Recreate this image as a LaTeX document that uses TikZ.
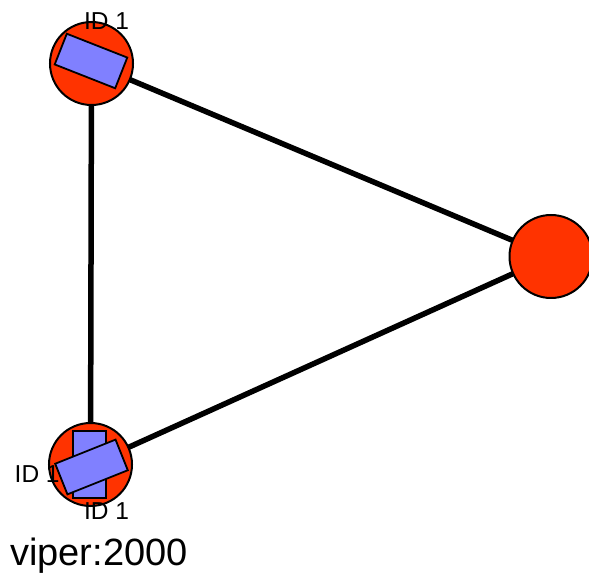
\documentclass[tikz,border=0pt]{standalone}
\usepackage{fontspec}
\setmainfont{Liberation Sans}
\usetikzlibrary{backgrounds}
\definecolor{nodered}{RGB}{255,51,0}
\definecolor{boxblue}{RGB}{128,128,255}
\tikzset{
  vertex/.style={circle,draw=black,fill=nodered,line width=2pt,minimum size=83pt,inner sep=0pt},
  vbox/.style={rectangle,draw=black,fill=boxblue,line width=1.8pt,inner sep=0pt},
  idlabel/.style={inner sep=0pt,font=\fontsize{24.5}{28}\selectfont},
  link/.style={line width=5.5pt,black}
}
\begin{document}
\begin{tikzpicture}[x=1pt,y=1pt]
\useasboundingbox (0,0) rectangle (589,573);
% vertices
\node[vertex] (n1) at (91.5,509.5) {};
\node[vertex] (n2) at (551,316.5) {};
\node[vertex] (n3) at (90.5,108.5) {};
% labels
\node[idlabel,anchor=base] (l1) at (106.5,543.5) {ID 1};
\node[idlabel,anchor=base west] (l2) at (14.5,90) {ID 1};
\node[idlabel,anchor=base] (l3) at (106.5,53) {ID 1};
% boxes
\node[vbox,minimum width=65pt,minimum height=33pt,rotate=-21.5] (b1) at (91,512) {};
\node[vbox,minimum width=33pt,minimum height=67pt] (b2) at (89.5,108.5) {};
\node[vbox,minimum width=65pt,minimum height=33pt,rotate=21.8] (b3) at (91.5,106) {};
% caption
\node[inner sep=0pt,anchor=base west,font=\fontsize{38}{44}\selectfont] (cap) at (10,8) {viper:2000};
% links
\begin{pgfonlayer}{background}
\draw[link] (n1.center) -- (n2.center);
\draw[link] (n1.center) -- (n3.center);
\draw[link] (n3.center) -- (n2.center);
\end{pgfonlayer}
\end{tikzpicture}
\end{document}
